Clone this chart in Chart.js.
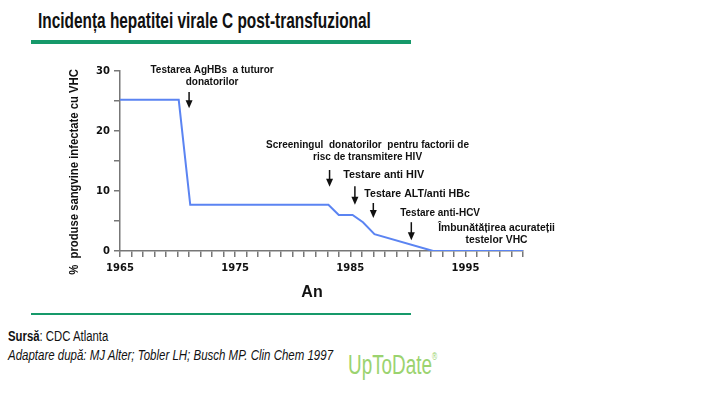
<!DOCTYPE html>
<html>
<head>
<meta charset="utf-8">
<script src="https://cdn.jsdelivr.net/npm/chart.js@4"></script>
<style>
  body { margin: 0; width: 704px; height: 409px; background: #fff; position: relative; overflow: hidden;
         font-family: "Liberation Sans", Arial, sans-serif; color: #111; }
  .narrow { transform-origin: 0 50%; display: inline-block; }
  #title { position: absolute; left: 38px; top: 8px; font-size: 22px; font-weight: bold; white-space: nowrap; transform: scaleX(0.7); }
  .rule { position: absolute; left: 31px; width: 380px; background: #16996a; }
  #wrap { position: absolute; left: 0; top: 50px; width: 600px; height: 260px; }
  #src { position: absolute; left: 8px; top: 328px; font-size: 14px; white-space: nowrap; transform: scaleX(0.81); }
  #ref { position: absolute; left: 8px; top: 347px; font-size: 14px; font-style: italic; white-space: nowrap; transform: scaleX(0.82); }
  #logo { position: absolute; left: 348px; top: 350px; font-size: 27px; color: #9bd36f; white-space: nowrap; transform: scaleX(0.7); }
  #logo sup { font-size: 10px; vertical-align: 14px; }
</style>
</head>
<body>
<div id="title" class="narrow">Incidența  hepatitei  virale C post-transfuzional</div>
<div class="rule" style="top:40px;height:4px"></div>
<div id="wrap"><canvas id="hcv-chart" width="600" height="260"></canvas></div>
<div class="rule" style="top:313px;height:2px"></div>
<div id="src" class="narrow"><b>Sursă</b>: CDC Atlanta</div>
<div id="ref" class="narrow">Adaptare după: MJ Alter; Tobler LH; Busch MP. Clin Chem 1997</div>
<div id="logo" class="narrow">UpToDate<sup>®</sup></div>
<script>
// incidence curve (year, % infected blood products)
const years = [1965, 1970.1, 1971.1, 1983.1, 1984, 1985.2, 1986.1, 1987.1, 1992.2, 2000];
const incidence = [25.2, 25.2, 7.7, 7.7, 6.0, 6.0, 4.8, 2.8, 0, 0];

const xLabels = [1965, 1975, 1985, 1995];
const yLabels = [0, 10, 20, 30];

const xTitle = 'An';
const yTitle = '%  produse sangvine infectate cu VHC';

// annotation texts, with the year / value where they sit
const noteTexts = [
    ['Testarea AgHBs  a tuturor', 'donatorilor'],
    ['Screeningul  donatorilor  pentru factorii de', 'risc de transmitere HIV'],
    ['Testare anti HIV'],
    ['Testare ALT/anti HBc'],
    ['Testare anti-HCV'],
    ['Îmbunătățirea acurateții', 'testelor VHC']
];
const noteYears = [1973.0, 1986.5, 1987.9, 1990.8, 1992.8, 1997.7];
const noteValues = [30.2, 17.7, 12.7, 9.5, 6.3, 3.8];
// arrows: year, top value, tip value
const arrowYears = [1971.0, 1983.2, 1985.4, 1987.0, 1990.3];
const arrowFrom = [26.5, 13.5, 10.8, 8.0, 4.8];
const arrowTo = [23.8, 10.7, 7.7, 5.5, 1.8];

// horizontal squeeze of each label (the slide uses a condensed face)
const noteSqueeze = [0.87, 0.87, 0.94, 0.92, 0.87, 0.9];

const notesPlugin = {
    id: 'notes',
    afterDatasetsDraw(chart) {
        const ctx = chart.ctx;
        const xs = chart.scales.x;
        const ys = chart.scales.y;
        const area = chart.chartArea;
        ctx.save();
        ctx.fillStyle = '#111';
        ctx.strokeStyle = '#111';
        ctx.textAlign = 'center';
        ctx.textBaseline = 'middle';

        // annotation labels
        ctx.font = 'bold 11.5px "Liberation Sans", Arial, sans-serif';
        noteTexts.forEach(function(lines, i) {
            const px = xs.getPixelForValue(noteYears[i]);
            const py = ys.getPixelForValue(noteValues[i]);
            lines.forEach(function(line, j) {
                ctx.save();
                ctx.translate(px, py + j * 12);
                ctx.scale(noteSqueeze[i], 1);
                ctx.fillText(line, 0, 0);
                ctx.restore();
            });
        });

        // arrows
        ctx.lineWidth = 1.5;
        arrowYears.forEach(function(yr, i) {
            const px = xs.getPixelForValue(yr);
            const y1 = ys.getPixelForValue(arrowFrom[i]);
            const y2 = ys.getPixelForValue(arrowTo[i]);
            ctx.beginPath();
            ctx.moveTo(px, y1);
            ctx.lineTo(px, y2 - 6);
            ctx.stroke();
            ctx.beginPath();
            ctx.moveTo(px - 3.5, y2 - 8);
            ctx.lineTo(px + 3.5, y2 - 8);
            ctx.lineTo(px, y2);
            ctx.closePath();
            ctx.fill();
        });

        // axis titles
        ctx.font = 'bold 16px "Liberation Sans", Arial, sans-serif';
        ctx.fillText(xTitle, area.left + 192, area.bottom + 42);

        ctx.font = 'bold 12px "Liberation Sans", Arial, sans-serif';
        ctx.save();
        ctx.translate(75, area.top + 101);
        ctx.rotate(-Math.PI / 2);
        ctx.scale(0.94, 1);
        ctx.fillText(yTitle, 0, 0);
        ctx.restore();

        ctx.restore();
    }
};

const tickFont = { family: 'DejaVu Sans', weight: 'bold', size: 10 };

new Chart(document.getElementById('hcv-chart').getContext('2d'), {
    type: 'line',
    data: {
        datasets: [{
            data: years.map(function(y, i) { return { x: y, y: incidence[i] }; }),
            borderColor: '#5b84f2',
            borderWidth: 2,
            pointRadius: 0,
            tension: 0,
            fill: false
        }]
    },
    options: {
        responsive: false,
        animation: false,
        layout: { padding: { top: 21, right: 77, bottom: 0, left: 0 } },
        plugins: { legend: { display: false }, tooltip: { enabled: false } },
        scales: {
            x: {
                type: 'linear',
                min: 1965,
                max: 2000,
                afterFit: function(s) { s.height = 59; },
                grid: { drawOnChartArea: false, color: '#777', tickLength: 6, lineWidth: 1.5 },
                border: { color: '#777', width: 1.5 },
                ticks: {
                    stepSize: 1,
                    autoSkip: false,
                    maxRotation: 0,
                    padding: 5,
                    color: '#111',
                    font: tickFont,
                    callback: function(v) { return xLabels.includes(v) ? String(v) : ''; }
                }
            },
            y: {
                min: 0,
                max: 30,
                afterFit: function(s) { s.width = 120; },
                grid: { drawOnChartArea: false, color: '#777', tickLength: 6, lineWidth: 1.5 },
                border: { color: '#777', width: 1.5 },
                ticks: {
                    stepSize: 5,
                    autoSkip: false,
                    padding: 4,
                    color: '#111',
                    font: tickFont,
                    callback: function(v) { return yLabels.includes(v) ? String(v) : ''; }
                }
            }
        }
    },
    plugins: [notesPlugin]
});
</script>
</body>
</html>
